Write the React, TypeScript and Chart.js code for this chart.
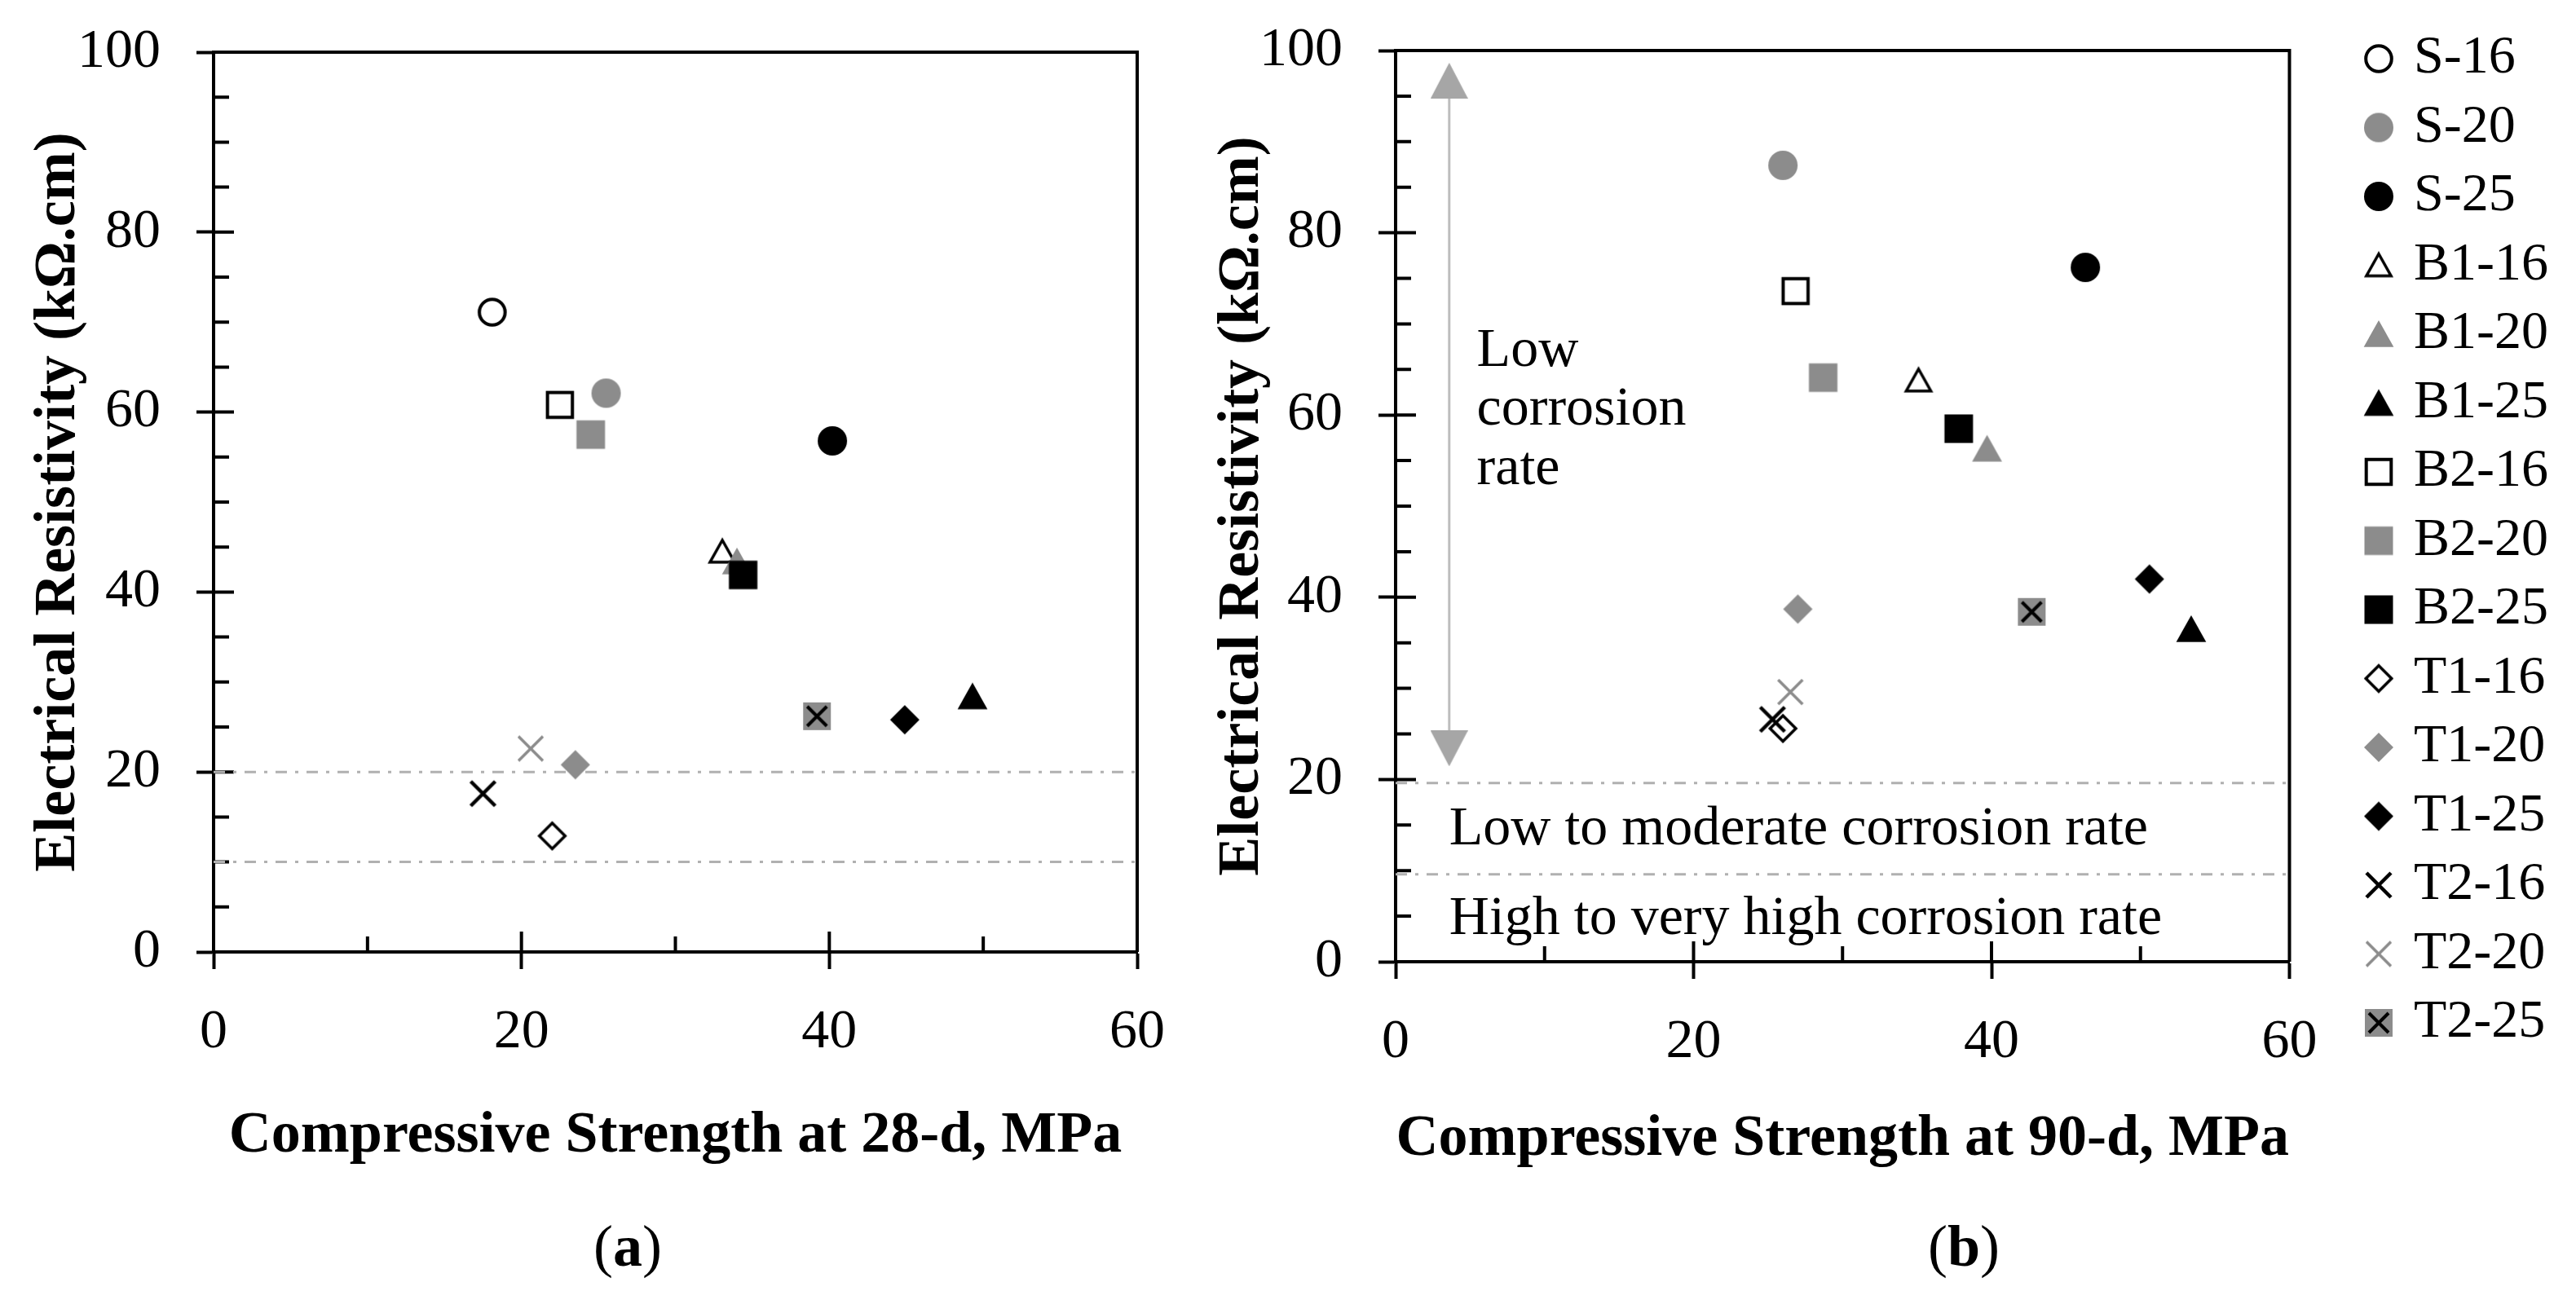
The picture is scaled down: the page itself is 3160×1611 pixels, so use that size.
import React, { useEffect, useRef } from 'react';
import Chart from 'chart.js/auto';

// legend order of the mixes
const seriesLabels = ['S-16', 'S-20', 'S-25', 'B1-16', 'B1-20', 'B1-25', 'B2-16', 'B2-20', 'B2-25', 'T1-16', 'T1-20', 'T1-25', 'T2-16', 'T2-20', 'T2-25'];

// (a) compressive strength at 28 d (MPa) vs electrical resistivity (kOhm.cm)
const strength28 = [18.1, 25.5, 40.2, 33.05, 34.0, 49.3, 22.5, 24.5, 34.4, 22.0, 23.5, 44.9, 17.5, 20.6, 39.2];
const resistivity28 = [71.1, 62.1, 56.8, 44.5, 43.4, 28.4, 60.8, 57.5, 41.9, 12.9, 20.8, 25.8, 17.6, 22.6, 26.2];

// (b) compressive strength at 90 d -- S-16 has no point here
const strength90 = [null, 26.0, 46.3, 35.1, 39.7, 53.4, 26.85, 28.7, 37.8, 26.0, 27.0, 50.6, 25.3, 26.5, 42.7];
const resistivity90 = [null, 87.4, 76.2, 63.8, 56.3, 36.5, 73.6, 64.1, 58.5, 25.6, 38.7, 42.0, 26.6, 29.6, 38.4];

// axes
const xMax = 60;
const yMax = 100;
const xStep = 20;
const yStep = 20;
const xMinorStep = 10;
const yMinorStep = 5;

// corrosion-rate limits (dash-dot lines)
const limits28 = [20, 10];
const limits90 = [19.6, 9.6];

// "low corrosion rate" arrow in (b)
const arrowX = [3.6, 3.6];
const arrowY = [23.4, 96.7];

// zone labels in (b)
const zoneTexts = ['Low', 'corrosion', 'rate', 'Low to moderate corrosion rate', 'High to very high corrosion rate'];
const zoneTextX = [5.45, 5.45, 5.45, 3.6, 3.6];
const zoneTextY = [65.4, 58.9, 52.4, 12.9, 3.0];

// marker look per series
const seriesShapes = ['circle', 'circle', 'circle', 'triangle', 'triangle', 'triangle', 'square', 'square', 'square', 'diamond', 'diamond', 'diamond', 'cross', 'cross', 'crossSquare'];
const seriesTones = ['open', 'gray', 'black', 'open', 'gray', 'black', 'open', 'gray', 'black', 'open', 'gray', 'black', 'black', 'gray', 'gray'];

const FONT = '"Liberation Serif", "Times New Roman", serif';
const BLACK = '#000';
const GRAY = '#8c8c8c';

Chart.defaults.font.family = FONT;
Chart.defaults.color = BLACK;

function makeMarker(shape: string, tone: string): HTMLCanvasElement {
  const S = 48;
  const m = S / 2;
  const c = document.createElement('canvas');
  c.width = S;
  c.height = S;
  const g = c.getContext('2d') as CanvasRenderingContext2D;
  const open = tone === 'open';
  const color = tone === 'gray' ? GRAY : BLACK;
  g.strokeStyle = color;
  g.fillStyle = open ? '#fff' : color;
  g.lineJoin = 'miter';

  if (shape === 'cross' || shape === 'crossSquare') {
    let r = 15;
    g.lineWidth = tone === 'gray' ? 3.5 : 4.5;
    if (shape === 'crossSquare') {
      g.fillStyle = GRAY;
      g.fillRect(m - 17, m - 17, 34, 34);
      g.strokeStyle = BLACK;
      g.lineWidth = 4;
      r = 12;
    }
    g.beginPath();
    g.moveTo(m - r, m - r);
    g.lineTo(m + r, m + r);
    g.moveTo(m + r, m - r);
    g.lineTo(m - r, m + r);
    g.stroke();
    return c;
  }

  const path = (r: number) => {
    g.beginPath();
    if (shape === 'circle') g.arc(m, m, r, 0, Math.PI * 2);
    else if (shape === 'square') g.rect(m - r, m - r, 2 * r, 2 * r);
    else if (shape === 'triangle') {
      g.moveTo(m, m - r);
      g.lineTo(m + r * 1.08, m + r * 0.92);
      g.lineTo(m - r * 1.08, m + r * 0.92);
      g.closePath();
    } else {
      g.moveTo(m, m - r);
      g.lineTo(m + r, m);
      g.lineTo(m, m + r);
      g.lineTo(m - r, m);
      g.closePath();
    }
  };
  const outer: Record<string, number> = { circle: 18, square: 17.5, triangle: 17, diamond: 18 };
  if (open) {
    g.lineWidth = shape === 'triangle' || shape === 'diamond' ? 3.5 : 4;
    path(outer[shape] - (shape === 'triangle' ? 3 : 2.2));
    g.fill();
    g.stroke();
  } else {
    path(outer[shape]);
    g.fill();
  }
  return c;
}

function makeArrowHead(): HTMLCanvasElement {
  const w = 46;
  const h = 44;
  const c = document.createElement('canvas');
  c.width = w;
  c.height = h;
  const g = c.getContext('2d') as CanvasRenderingContext2D;
  g.fillStyle = '#a6a6a6';
  g.beginPath();
  g.moveTo(w / 2, 0);
  g.lineTo(w, h);
  g.lineTo(0, h);
  g.closePath();
  g.fill();
  return c;
}

// top/right frame lines and the inward tick marks (Excel style)
const framePlugin = {
  id: 'frame',
  beforeDatasetsDraw(chart: any) {
    const { ctx, chartArea: a, scales } = chart;
    const x = scales.x;
    const y = scales.y;
    ctx.save();
    ctx.strokeStyle = BLACK;
    ctx.lineWidth = 4;
    ctx.beginPath();
    ctx.moveTo(a.left, a.top);
    ctx.lineTo(a.right, a.top);
    ctx.lineTo(a.right, a.bottom);
    for (let v = 0; v <= yMax; v += yMinorStep) {
      const py = y.getPixelForValue(v);
      ctx.moveTo(a.left, py);
      ctx.lineTo(a.left + (v % yStep === 0 ? 25 : 19), py);
    }
    for (let v = 0; v <= xMax; v += xMinorStep) {
      const px = x.getPixelForValue(v);
      ctx.moveTo(px, a.bottom);
      ctx.lineTo(px, a.bottom - (v % xStep === 0 ? 25 : 19));
    }
    ctx.stroke();
    ctx.restore();
  },
};

const zoneTextPlugin = {
  id: 'zoneText',
  afterDatasetsDraw(chart: any) {
    const { ctx, scales } = chart;
    ctx.save();
    ctx.font = `68px ${FONT}`;
    ctx.fillStyle = BLACK;
    ctx.textAlign = 'left';
    ctx.textBaseline = 'alphabetic';
    zoneTexts.forEach((t, i) => {
      ctx.fillText(t, scales.x.getPixelForValue(zoneTextX[i]), scales.y.getPixelForValue(zoneTextY[i]));
    });
    ctx.restore();
  },
};

function pointDatasets(xs: (number | null)[], ys: (number | null)[], markers: HTMLCanvasElement[]) {
  return seriesLabels.map((label, i) => ({
    label,
    data: xs[i] == null ? [] : [{ x: xs[i], y: ys[i] }],
    pointStyle: markers[i],
    pointRadius: 18,
    order: -i, // later series drawn on top, like the original
  }));
}

function limitDatasets(limits: number[]) {
  return limits.map((v) => ({
    label: '',
    data: [{ x: 0, y: v }, { x: xMax, y: v }],
    showLine: true,
    borderColor: '#b0b0b0',
    borderWidth: 3,
    borderDash: [14, 10, 4, 10],
    pointRadius: 0,
    order: 100,
  }));
}

interface AxisFit {
  xTitle: string;
  yWidth: number;
  yTitlePad: number;
  yPadTop: number;
  xHeight: number;
  xTitlePad: number;
}

function axes(f: AxisFit) {
  const tickFont = { size: 68 };
  const titleFont = { size: 72, weight: 'bold' as const };
  const grid = { display: true, drawOnChartArea: false, drawTicks: true, tickLength: 21, tickWidth: 4, tickColor: BLACK };
  const border = { display: true, color: BLACK, width: 4 };
  return {
    x: {
      type: 'linear',
      min: 0,
      max: xMax,
      ticks: { stepSize: xStep, padding: 37, font: tickFont, color: BLACK },
      grid,
      border,
      title: { display: true, text: f.xTitle, font: titleFont, color: BLACK, padding: { top: 0, bottom: f.xTitlePad } },
      afterFit: (s: any) => {
        s.height = f.xHeight;
      },
    },
    y: {
      type: 'linear',
      min: 0,
      max: yMax,
      ticks: { stepSize: yStep, padding: 44, font: tickFont, color: BLACK },
      grid,
      border,
      title: { display: true, text: 'Electrical Resistivity (kΩ.cm)', font: titleFont, color: BLACK, padding: { top: f.yTitlePad, bottom: 0 } },
      afterFit: (s: any) => {
        s.width = f.yWidth;
        s.paddingTop = f.yPadTop;
      },
    },
  };
}

export default function App() {
  const leftRef = useRef<HTMLCanvasElement>(null);
  const rightRef = useRef<HTMLCanvasElement>(null);

  useEffect(() => {
    if (!leftRef.current || !rightRef.current) return;
    const markers = seriesShapes.map((s, i) => makeMarker(s, seriesTones[i]));
    const arrowHead = makeArrowHead();

    const left = new Chart(leftRef.current, {
      type: 'scatter',
      data: {
        datasets: [...pointDatasets(strength28, resistivity28, markers), ...limitDatasets(limits28)],
      },
      options: {
        animation: false,
        responsive: true,
        maintainAspectRatio: false,
        devicePixelRatio: 1,
        events: [],
        layout: { autoPadding: false, padding: { top: 0, right: 55, bottom: 0, left: 0 } },
        plugins: { legend: { display: false }, tooltip: { enabled: false } },
        scales: axes({ xTitle: 'Compressive Strength at 28-d, MPa', yWidth: 262, yTitlePad: 29, yPadTop: 64, xHeight: 302, xTitlePad: 32 }),
      },
      plugins: [framePlugin],
    } as any);

    const rightScales: any = axes({ xTitle: 'Compressive Strength at 90-d, MPa', yWidth: 262, yTitlePad: 31, yPadTop: 62, xHeight: 290, xTitlePad: 28 });
    // empty axis on the right: keeps the gap between the plot and the legend
    rightScales.yR = {
      type: 'linear',
      position: 'right',
      display: true,
      grid: { display: false },
      border: { display: false },
      ticks: { display: false },
      afterFit: (s: any) => {
        s.width = 81;
      },
    };

    const right = new Chart(rightRef.current, {
      type: 'scatter',
      data: {
        datasets: [
          ...pointDatasets(strength90, resistivity90, markers),
          ...limitDatasets(limits90),
          {
            label: '',
            data: arrowX.map((x, i) => ({ x, y: arrowY[i] })),
            showLine: true,
            borderColor: '#bdbdbd',
            borderWidth: 3,
            pointStyle: arrowHead,
            pointRotation: [180, 0],
            pointRadius: 20,
            order: 99,
          },
        ],
      },
      options: {
        animation: false,
        responsive: true,
        maintainAspectRatio: false,
        devicePixelRatio: 1,
        events: [],
        layout: { autoPadding: false, padding: { top: 20.5, right: 24, bottom: 0, left: 0 } },
        plugins: {
          tooltip: { enabled: false },
          legend: {
            display: true,
            position: 'right',
            align: 'start',
            labels: {
              usePointStyle: true,
              boxWidth: 20,
              boxHeight: 20,
              padding: 18.5,
              color: BLACK,
              font: { size: 66 },
              filter: (item: any) => item.datasetIndex < seriesLabels.length,
              sort: (a: any, b: any) => a.datasetIndex - b.datasetIndex,
            },
          },
        },
        scales: rightScales,
      },
      plugins: [framePlugin, zoneTextPlugin],
    } as any);

    return () => {
      left.destroy();
      right.destroy();
    };
  }, []);

  const caption: React.CSSProperties = {
    position: 'absolute',
    top: 1486,
    width: 400,
    textAlign: 'center',
    fontFamily: FONT,
    fontSize: 72,
    lineHeight: '86px',
    color: BLACK,
  };

  return (
    <div style={{ position: 'absolute', left: 0, top: 0, width: 3160, height: 1611, background: '#fff', overflow: 'hidden' }}>
      {/* the x axis keeps room for half a tick label plus padding on its right, hence the extra width */}
      <div style={{ position: 'absolute', left: 0, top: 0, width: 1466, height: 1470 }}>
        <canvas ref={leftRef}></canvas>
      </div>
      <div style={{ position: 'absolute', left: 1450, top: 0, width: 1710, height: 1470 }}>
        <canvas ref={rightRef}></canvas>
      </div>
      <div style={{ ...caption, left: 570 }}>
        (<b>a</b>)
      </div>
      <div style={{ ...caption, left: 2209 }}>
        (<b>b</b>)
      </div>
    </div>
  );
}
